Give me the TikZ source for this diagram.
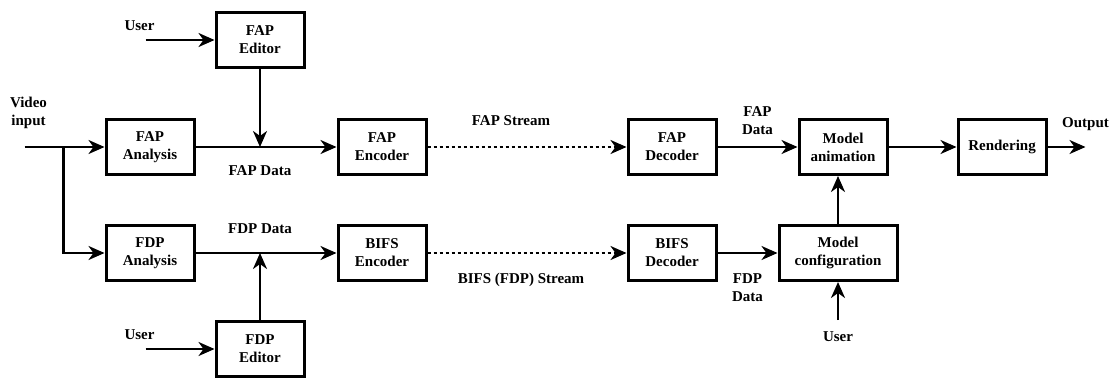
\documentclass[tikz,border=0pt]{standalone}
\usepackage{fontspec}
\setmainfont{Liberation Serif}
\usepackage{tikz}
\usetikzlibrary{positioning}
\usetikzlibrary{arrows.meta}

\tikzset{
blockbox/.style={draw, line width=3pt, minimum width=88pt, minimum height=55pt, align=center, inner sep=2pt},
lbl/.style={align=center, inner sep=0pt},
flow/.style={line width=2.4pt, -{Stealth[length=16pt, width=14pt, inset=5pt]}},
stream/.style={flow, dash pattern=on 3pt off 3pt}
}

\begin{document}
\begin{tikzpicture}[
x=1pt, y=1pt,
font=\fontsize{15}{18}\selectfont\bfseries
]
\useasboundingbox (0,0) rectangle (1114,-381);
% blocks
\node[blockbox] (fapana) at (150,-147) {FAP\\Analysis};
\node[blockbox, below=48pt of fapana] (fdpana) {FDP\\Analysis};
\node[blockbox, above right=49pt and 19pt of fapana] (fapedit) {FAP\\Editor};
\node[blockbox, below right=38pt and 19pt of fdpana] (fdpedit) {FDP\\Editor};
\node[blockbox, right=141pt of fapana] (fapenc) {FAP\\Encoder};
\node[blockbox, right=141pt of fdpana] (bifsenc) {BIFS\\Encoder};
\node[blockbox, right=199pt of fapenc] (fapdec) {FAP\\Decoder};
\node[blockbox, right=199pt of bifsenc] (bifsdec) {BIFS\\Decoder};
\node[blockbox, right=80pt of fapdec] (anim) {Model\\animation};
\node[blockbox, minimum width=118pt, right=60pt of bifsdec] (config) {Model\\configuration};
\node[blockbox, right=68pt of anim] (render) {Rendering};
% free ends and joins
\coordinate[left=80pt of fapana.west] (vin);
\coordinate[right=39pt of vin] (split);
\coordinate[left=69pt of fapedit.west] (user1);
\coordinate[left=69pt of fdpedit.west] (user2);
\coordinate[below=38pt of config.south] (user3);
\coordinate[right=38pt of render.east] (vout);
\coordinate (fapjoin) at (fapedit.south |- fapana.east);
\coordinate (fdpjoin) at (fdpedit.north |- fdpana.east);
% labels
\node[lbl, above=18pt of vin, xshift=4pt] (vidlbl) {Video\\input};
\node[lbl, above=9pt of user1, xshift=-6pt] (user1lbl) {User};
\node[lbl, above=9pt of user2, xshift=-6pt] (user2lbl) {User};
\node[lbl, below=11pt of user3] (user3lbl) {User};
\node[lbl, above=16pt of vout] (outlbl) {Output};
\node[lbl, below=18pt of fapjoin] (fapdatalbl) {FAP Data};
\node[lbl, above=19pt of fdpjoin] (fdpdatalbl) {FDP Data};
% connectors
\draw[flow] (vin) -- (fapana);
\draw[flow] (split) |- (fdpana);
\draw[flow] (user1) -- (fapedit);
\draw[flow] (user2) -- (fdpedit);
\draw[flow] (fapedit) -- (fapjoin);
\draw[flow] (fdpedit) -- (fdpjoin);
\draw[flow] (fapana) -- (fapenc);
\draw[flow] (fdpana) -- (bifsenc);
\draw[stream] (fapenc) -- node[lbl, above=20pt, xshift=-16pt] (fapstream) {FAP Stream} (fapdec);
\draw[stream] (bifsenc) -- node[lbl, below=19pt, xshift=-6pt] (bifsstream) {BIFS (FDP) Stream} (bifsdec);
\draw[flow] (fapdec) -- node[lbl, above=11pt] (fapdatalbl2) {FAP\\Data} (anim);
\draw[flow] (bifsdec) -- node[lbl, below=19pt] (fdpdatalbl2) {FDP\\Data} (config);
\draw[flow] (config) -- (config |- anim.south);
\draw[flow] (user3) -- (config);
\draw[flow] (anim) -- (render);
\draw[flow] (render) -- (vout);
\end{tikzpicture}
\end{document}
